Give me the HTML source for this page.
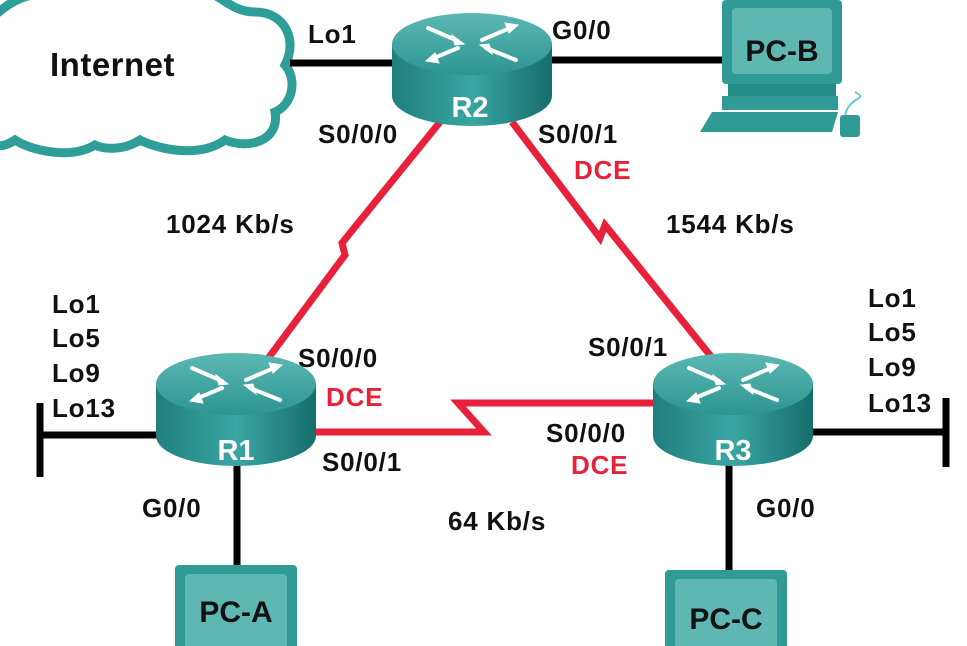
<!DOCTYPE html>
<html><head><meta charset="utf-8"><style>
html,body{margin:0;padding:0;background:#fff;width:967px;height:646px;overflow:hidden}
svg{display:block}
text{font-family:"Liberation Sans",sans-serif;font-weight:bold}
</style></head><body>
<svg width="967" height="646" viewBox="0 0 967 646" xmlns="http://www.w3.org/2000/svg">
<defs>
<linearGradient id="body" x1="0" x2="1" y1="0" y2="0">
<stop offset="0" stop-color="#1f7f7e"/><stop offset="0.5" stop-color="#3aa6a3"/><stop offset="1" stop-color="#156d6c"/>
</linearGradient>
<linearGradient id="top" x1="0" x2="0" y1="0" y2="1">
<stop offset="0" stop-color="#5cb8b4"/><stop offset="1" stop-color="#2d9592"/>
</linearGradient>
<g id="router">
<path d="M-80,0 L-80,52 A80,30 0 0 0 80,52 L80,0 Z" fill="url(#body)"/>
<ellipse cx="0" cy="0" rx="80" ry="31" fill="url(#top)"/>
<g stroke="#fff" stroke-width="4" stroke-linecap="round" fill="#fff">
<line x1="-44" y1="-16" x2="-14" y2="-3"/><polygon points="-8,0 -20,-9 -17,1" stroke-width="1"/>
<line x1="10" y1="-4" x2="38" y2="-16"/><polygon points="46,-19 33,-21 37,-11" stroke-width="1"/>
<line x1="-14" y1="4" x2="-38" y2="14"/><polygon points="-46,17 -33,19 -37,9" stroke-width="1"/>
<line x1="44" y1="16" x2="14" y2="4"/><polygon points="8,1 20,10 17,0" stroke-width="1"/>
</g>
</g>
</defs>

<path d="M-10,20 C10,0 30,-10 60,-5 L215,-5 C230,5 240,12 255,12 C285,12 298,40 285,65 C298,80 292,105 275,112 C280,140 250,150 225,140 C200,158 160,150 140,140 C125,150 105,150 95,145 C70,160 30,150 15,140 C0,150 -10,145 -10,140" fill="#fff" stroke="#2f9e98" stroke-width="9"/>
<text x="50" y="76" font-size="33" letter-spacing="0.5" fill="#111">Internet</text>

<g stroke="#000" stroke-width="7">
<line x1="290" y1="63" x2="395" y2="63"/>
<line x1="550" y1="60" x2="722" y2="60"/>
<line x1="40" y1="435" x2="158" y2="435"/>
<line x1="40" y1="403" x2="40" y2="477"/>
<line x1="812" y1="432" x2="946" y2="432"/>
<line x1="946" y1="398" x2="946" y2="467"/>
<line x1="237" y1="465" x2="237" y2="568"/>
<line x1="729" y1="465" x2="729" y2="572"/>
</g>

<g stroke="#e8203a" stroke-width="7" fill="none" stroke-linejoin="miter">
<polyline points="440,122 342,243 345,255 258,372"/>
<polyline points="512,122 600,238 605,225 722,370"/>
<polyline points="312,432 484,432 458,403 655,403"/>
</g>

<use href="#router" x="472" y="44"/>
<use href="#router" x="236" y="384"/>
<use href="#router" x="733" y="384"/>
<g fill="#fff" font-size="29" text-anchor="middle">
<text x="470" y="117">R2</text>
<text x="236" y="460">R1</text>
<text x="733" y="460">R3</text>
</g>

<rect x="722" y="0" width="120" height="84" rx="4" fill="#2f9a96"/>
<rect x="732" y="8" width="100" height="66" rx="4" fill="#5fb7b3"/>
<rect x="728" y="84" width="108" height="12" fill="#268c88"/>
<rect x="722" y="96" width="116" height="14" fill="#2f9a96"/>
<path d="M712,112 L838,112 L832,132 L700,132 Z" fill="#2f9a96"/>
<rect x="840" y="115" width="20" height="22" rx="3" fill="#2f9a96"/>
<path d="M845,115 C850,95 870,100 855,92" stroke="#6cc" stroke-width="2" fill="none"/>
<text x="782" y="61" font-size="30" text-anchor="middle" fill="#111">PC-B</text>

<rect x="175" y="565" width="122" height="90" rx="4" fill="#2f9a96"/>
<rect x="185" y="574" width="102" height="80" rx="4" fill="#5fb7b3"/>
<text x="236" y="622" font-size="30" text-anchor="middle" fill="#111">PC-A</text>
<rect x="665" y="570" width="122" height="90" rx="4" fill="#2f9a96"/>
<rect x="675" y="579" width="102" height="80" rx="4" fill="#5fb7b3"/>
<text x="726" y="629" font-size="30" text-anchor="middle" fill="#111">PC-C</text>

<g font-size="26" letter-spacing="0.8" fill="#111">
<text x="308" y="43">Lo1</text>
<text x="552" y="39">G0/0</text>
<text x="318" y="143">S0/0/0</text>
<text x="538" y="143">S0/0/1</text>
<text x="166" y="233">1024 Kb/s</text>
<text x="666" y="233">1544 Kb/s</text>
<text x="52" y="313">Lo1</text>
<text x="52" y="347">Lo5</text>
<text x="52" y="382">Lo9</text>
<text x="52" y="417">Lo13</text>
<text x="868" y="307">Lo1</text>
<text x="868" y="341">Lo5</text>
<text x="868" y="376">Lo9</text>
<text x="868" y="412">Lo13</text>
<text x="298" y="367">S0/0/0</text>
<text x="588" y="356">S0/0/1</text>
<text x="546" y="442">S0/0/0</text>
<text x="322" y="471">S0/0/1</text>
<text x="142" y="517">G0/0</text>
<text x="756" y="517">G0/0</text>
<text x="448" y="530">64 Kb/s</text>
</g>
<g font-size="26" letter-spacing="0.8" fill="#e8203a">
<text x="574" y="179">DCE</text>
<text x="326" y="406">DCE</text>
<text x="571" y="474">DCE</text>
</g>
</svg>
</body></html>
